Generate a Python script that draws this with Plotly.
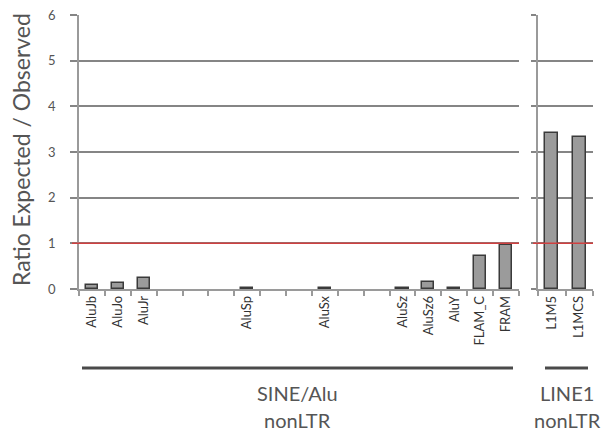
import plotly.graph_objects as go

# the page draws the figure 8px in from the window's top-left corner
OFF = 8
W, H = 616, 433

sine_categories = ["AluJb", "AluJo", "AluJr", "", "", "", "AluSp", "", "", "AluSx",
                   "", "", "AluSz", "AluSz6", "AluY", "FLAM_C", "FRAM"]
sine_values = [0.09, 0.14, 0.25, None, None, None, 0.03, None, None, 0.02,
               None, None, 0.02, 0.15, 0.02, 0.72, 0.96]
line_categories = ["L1M5", "L1MCS"]
line_values = [3.41, 3.33]
y_ticks = [0, 1, 2, 3, 4, 5, 6]
group_names = ["SINE/Alu", "LINE1"]
group_class = ["nonLTR", "nonLTR"]
threshold = 1

FONT = "Lato"
TXT = "#555555"
GRID = "#858585"
BAR_FILL = "#9b9b9b"
BAR_EDGE = "#3a3a3a"

def px_x(p):
    return (p - OFF) / W

def px_y(p):
    return (H - (p - OFF)) / H

x_sine = list(range(len(sine_categories)))
x_line = list(range(len(line_categories)))

fig = go.Figure()
fig.add_trace(go.Bar(x=x_sine, y=sine_values, width=0.47,
                     marker=dict(color=BAR_FILL, line=dict(color=BAR_EDGE, width=1.5)),
                     xaxis="x", yaxis="y", showlegend=False))
fig.add_trace(go.Bar(x=x_line, y=line_values, width=0.47,
                     marker=dict(color=BAR_FILL, line=dict(color=BAR_EDGE, width=1.5)),
                     xaxis="x2", yaxis="y2", showlegend=False))

ydom = [px_y(289), px_y(15)]
common_y = dict(range=[0, 6], tickvals=y_ticks, showgrid=True, gridcolor=GRID, gridwidth=2.2,
                zeroline=False, showline=True, linecolor="#9a9a9a", linewidth=1.5,
                ticks="outside", ticklen=7, tickcolor=GRID, tickwidth=2.2, domain=ydom,
                ticklabelstandoff=12, ticklabeloverflow="allow",
                tickfont=dict(family=FONT, size=13, color=TXT))

xtickfont = dict(family=FONT, size=13, color="#333333")

fig.update_layout(
    width=W, height=H, margin=dict(l=0, r=0, t=0, b=0, autoexpand=False),
    plot_bgcolor="white", paper_bgcolor="white", bargap=0,
    xaxis=dict(domain=[px_x(79), px_x(519)], range=[-0.5, len(sine_categories) - 0.5],
               tickvals=x_sine, ticktext=sine_categories, tickangle=-90, ticks="",
               tickfont=xtickfont, showgrid=False, automargin=False,
               zeroline=False, showline=True, linecolor="#9a9a9a", linewidth=1.5, anchor="y",
               minor=dict(tickvals=[i - 0.5 for i in range(len(sine_categories) + 1)],
                          ticks="outside", ticklen=5, tickcolor="#9a9a9a", tickwidth=1.5,
                          showgrid=False)),
    xaxis2=dict(domain=[px_x(538), px_x(593)], range=[-0.5, len(line_categories) - 0.5],
                tickvals=x_line, ticktext=line_categories, tickangle=-90, ticks="",
                tickfont=xtickfont, showgrid=False, automargin=False,
                zeroline=False, showline=True, linecolor="#9a9a9a", linewidth=1.5, anchor="y2",
                minor=dict(tickvals=[i - 0.5 for i in range(len(line_categories) + 1)],
                           ticks="outside", ticklen=5, tickcolor="#9a9a9a", tickwidth=1.5,
                           showgrid=False)),
    yaxis=dict(anchor="x", automargin=False, **common_y),
    yaxis2=dict(anchor="x2", automargin=False,
                **{**common_y, "showticklabels": False, "ticklen": 5}),
)

# red threshold line in both panels
fig.add_shape(type="line", xref="paper", yref="y", x0=px_x(72), x1=px_x(519),
              y0=threshold, y1=threshold, line=dict(color="#d04040", width=1.5))
fig.add_shape(type="line", xref="paper", yref="y2", x0=px_x(533), x1=px_x(593),
              y0=threshold, y1=threshold, line=dict(color="#d04040", width=1.5))

# group bracket lines
fig.add_shape(type="line", xref="paper", yref="paper", x0=px_x(82), x1=px_x(513),
              y0=px_y(368), y1=px_y(368), line=dict(color="#4a4a4a", width=2.8))
fig.add_shape(type="line", xref="paper", yref="paper", x0=px_x(545), x1=px_x(588),
              y0=px_y(368), y1=px_y(368), line=dict(color="#4a4a4a", width=2.8))

gfont = dict(family=FONT, size=20, color=TXT)
for name, cls, cx in zip(group_names, group_class, [297, 567]):
    fig.add_annotation(text=name, xref="paper", yref="paper", x=px_x(cx), y=px_y(393),
                       xanchor="center", yanchor="middle", showarrow=False, font=gfont)
    fig.add_annotation(text=cls, xref="paper", yref="paper", x=px_x(cx), y=px_y(420),
                       xanchor="center", yanchor="middle", showarrow=False, font=gfont)

fig.add_annotation(text="Ratio Expected / Observed", xref="paper", yref="paper",
                   x=px_x(21), y=px_y(150), textangle=-90, showarrow=False,
                   xanchor="center", yanchor="middle",
                   font=dict(family=FONT, size=23, color=TXT))

fig.write_html("out.html")
